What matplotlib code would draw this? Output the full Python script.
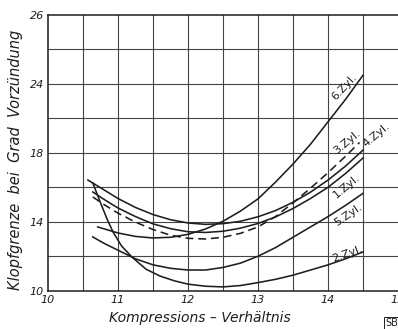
import matplotlib
matplotlib.use("Agg")
import matplotlib.pyplot as plt

# ---- data ----
x_zyl4 = [10.57, 10.8, 11.0, 11.25, 11.5, 11.75, 12.0, 12.25, 12.5, 12.75, 13.0, 13.25, 13.5, 13.75, 14.0, 14.25, 14.5]
y_zyl4 = [16.42, 15.85, 15.35, 14.83, 14.42, 14.12, 13.93, 13.85, 13.89, 14.03, 14.29, 14.65, 15.13, 15.72, 16.42, 17.23, 18.16]

x_zyl1 = [10.64, 10.8, 11.0, 11.25, 11.5, 11.75, 12.0, 12.25, 12.5, 12.75, 13.0, 13.25, 13.5, 13.75, 14.0, 14.25, 14.5]
y_zyl1 = [15.73, 15.3, 14.8, 14.3, 13.88, 13.6, 13.42, 13.38, 13.45, 13.63, 13.9, 14.28, 14.77, 15.35, 16.0, 16.8, 17.7]

x_zyl3 = [10.64, 10.8, 11.0, 11.25, 11.5, 11.75, 12.0, 12.25, 12.5, 12.75, 13.0, 13.25, 13.5, 13.75, 14.0, 14.25, 14.45]
y_zyl3 = [15.44, 15.0, 14.5, 13.98, 13.55, 13.22, 13.04, 13.0, 13.1, 13.33, 13.7, 14.3, 15.1, 15.95, 16.85, 17.8, 18.6]

x_zyl6 = [10.71, 11.0, 11.25, 11.5, 11.75, 12.0, 12.25, 12.5, 12.75, 13.0, 13.25, 13.5, 13.75, 14.0, 14.25, 14.5]
y_zyl6 = [13.7, 13.35, 13.15, 13.06, 13.1, 13.27, 13.58, 14.03, 14.62, 15.33, 16.3, 17.35, 18.5, 19.8, 21.1, 22.5]

x_zyl5 = [10.64, 10.8, 11.0, 11.25, 11.5, 11.75, 12.0, 12.25, 12.5, 12.75, 13.0, 13.25, 13.5, 13.75, 14.0, 14.25, 14.5]
y_zyl5 = [13.12, 12.75, 12.35, 11.85, 11.5, 11.3, 11.2, 11.2, 11.35, 11.6, 12.0, 12.5, 13.1, 13.7, 14.3, 14.95, 15.65]

x_zyl2 = [10.64, 10.75, 10.85, 10.93, 11.05, 11.2, 11.4, 11.6, 11.8, 12.0, 12.25, 12.5, 12.75, 13.0, 13.25, 13.5, 13.75, 14.0, 14.25, 14.5]
y_zyl2 = [16.25, 15.1, 14.1, 13.4, 12.6, 11.95, 11.25, 10.85, 10.58, 10.38, 10.26, 10.22, 10.3, 10.47, 10.66, 10.9, 11.2, 11.5, 11.85, 12.25]

x_ticks = [10, 11, 12, 13, 14, 15]
x_ticklabels = ["10", "11", "12", "13", "14", "15"]
y_ticks = [10, 14, 18, 22, 26]
y_ticklabels = ["10", "14", "18", "24", "26"]

curve_labels = ["6.Zyl.", "3.Zyl.", "4.Zyl.", "1.Zyl.", "5.Zyl.", "2.Zyl."]
label_x = [14.24, 14.27, 14.69, 14.27, 14.29, 14.27]
label_y = [21.8, 18.65, 19.05, 16.07, 14.39, 12.13]
label_rot = [47, 40, 40, 40, 35, 20]

# ---- figure ----
W, H = 398, 329
fig = plt.figure(figsize=(W / 100, H / 100), dpi=100)
left, right, bottom, top = 48, 398, 329 - 290.7, 329 - 15
ax = fig.add_axes([left / W, bottom / H, (right - left) / W, (top - bottom) / H])

ink = "#1e1e1e"
ax.set_xlim(10, 15)
ax.set_ylim(10, 26)

# grid
for gx in [10.5, 11, 11.5, 12, 12.5, 13, 13.5, 14, 14.5]:
    ax.axvline(gx, color="#444444", lw=0.8, zorder=1)
for gy in [12, 14, 16, 18, 20, 22, 24]:
    ax.axhline(gy, color="#444444", lw=0.8, zorder=1)

for s in ["left", "bottom", "top"]:
    ax.spines[s].set_color(ink)
    ax.spines[s].set_linewidth(1.1)
ax.spines["right"].set_visible(False)

lw = 1.15
ax.plot(x_zyl4, y_zyl4, color=ink, lw=lw, zorder=3)
ax.plot(x_zyl1, y_zyl1, color=ink, lw=lw, zorder=3)
ax.plot(x_zyl3, y_zyl3, color=ink, lw=lw, ls=(0, (5, 3)), zorder=3)
ax.plot(x_zyl6, y_zyl6, color=ink, lw=lw, zorder=3)
ax.plot(x_zyl5, y_zyl5, color=ink, lw=lw, zorder=3)
ax.plot(x_zyl2, y_zyl2, color=ink, lw=lw, zorder=3)

for t, lx, ly, r in zip(curve_labels, label_x, label_y, label_rot):
    ax.text(lx, ly, t, rotation=r, ha="center", va="center", fontsize=8,
            color=ink, family="DejaVu Sans", zorder=4)

ax.set_xticks(x_ticks)
ax.set_xticklabels(x_ticklabels, fontsize=8, style="italic", color=ink)
ax.set_yticks(y_ticks)
ax.set_yticklabels(y_ticklabels, fontsize=8, style="italic", color=ink)
ax.tick_params(length=0, pad=3)

fig.text(200 / W, 1 - 318 / H, "Kompressions \u2013 Verh\u00e4ltnis", ha="center", va="center",
         fontsize=10, style="italic", color=ink)
fig.text(16 / W, 1 - 160 / H, "Klopfgrenze  bei  Grad  Vorz\u00fcndung", ha="center", va="center",
         rotation=90, fontsize=10.5, style="italic", color=ink)
fig.text(385 / W, 1 - 323 / H, "SBZ", ha="left", va="center", fontsize=7, color=ink,
         bbox=dict(boxstyle="square,pad=0.1", fc="white", ec=ink, lw=0.7))

fig.savefig("out.png", dpi=100, facecolor="white")
